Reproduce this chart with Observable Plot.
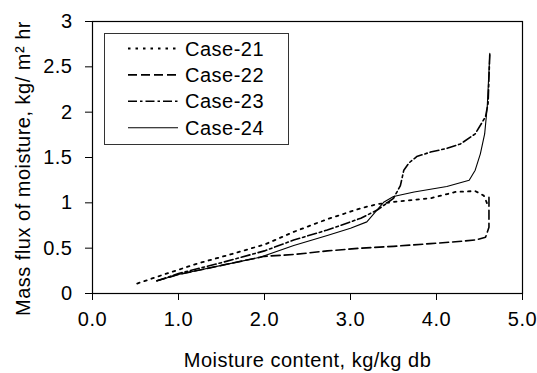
<!DOCTYPE html>
<html>
<head>
<meta charset="utf-8">
<script src="https://cdn.jsdelivr.net/npm/d3@7"></script>
<script src="https://cdn.jsdelivr.net/npm/@observablehq/plot@0.6"></script>
<style>
  html, body { margin: 0; padding: 0; background: #fff; }
  #chart svg { display: block; }
</style>
</head>
<body>
<div id="chart"></div>
<script>
// Series names (legend order)
const seriesNames = ["Case-21", "Case-22", "Case-23", "Case-24"];

// Case-21 (dotted)
const case21X = [0.52, 0.8, 1.22, 1.6, 2.0, 2.34, 2.73, 3.12, 3.31, 3.5, 3.93, 4.22, 4.45, 4.55, 4.59];
const case21Y = [0.11, 0.20, 0.33, 0.43, 0.54, 0.68, 0.82, 0.94, 0.985, 1.01, 1.05, 1.12, 1.13, 1.08, 0.99];

// Case-22 (dashed)
const case22X = [0.75, 1.0, 1.5, 2.0, 2.34, 2.73, 3.12, 3.5, 3.93, 4.22, 4.45, 4.57, 4.61, 4.61];
const case22Y = [0.14, 0.21, 0.31, 0.41, 0.43, 0.47, 0.50, 0.52, 0.55, 0.57, 0.59, 0.62, 0.73, 1.06];

// Case-23 (dash-dot)
const case23X = [0.75, 1.0, 1.5, 2.0, 2.34, 2.73, 3.12, 3.31, 3.5, 3.58, 3.62, 3.68, 3.77, 3.93, 4.12, 4.28, 4.45, 4.57, 4.6, 4.62];
const case23Y = [0.14, 0.22, 0.34, 0.47, 0.59, 0.70, 0.83, 0.92, 1.05, 1.19, 1.36, 1.44, 1.51, 1.56, 1.60, 1.65, 1.76, 1.95, 2.1, 2.65];

// Case-24 (solid)
const case24X = [0.75, 1.0, 1.5, 1.95, 2.34, 2.73, 3.0, 3.19, 3.29, 3.39, 3.5, 3.74, 4.12, 4.38, 4.45, 4.51, 4.56, 4.59, 4.62];
const case24Y = [0.14, 0.21, 0.31, 0.40, 0.53, 0.64, 0.72, 0.79, 0.90, 1.01, 1.07, 1.12, 1.18, 1.25, 1.36, 1.54, 1.76, 2.06, 2.65];

// Axis ticks and titles
const xTicks = [0, 1, 2, 3, 4, 5];
const yTicks = [0, 0.5, 1, 1.5, 2, 2.5, 3];
const xTitle = "Moisture content, kg/kg db";
const yTitle = "Mass flux of moisture, kg/ m² hr";

const seriesX = [case21X, case22X, case23X, case24X];
const seriesY = [case21Y, case22Y, case23Y, case24Y];
const dashes = ["2.5,5", "9,4", "9,3,2.5,3", null];
const widths = [1.8, 1.6, 1.6, 1.1];

const lineMarks = seriesNames.map((name, i) => {
  const rows = seriesX[i].map((x, j) => ({x, y: seriesY[i][j], name}));
  return Plot.line(rows, {
    x: "x", y: "y", stroke: "#000",
    strokeWidth: widths[i],
    strokeDasharray: dashes[i] || undefined,
    curve: "linear"
  });
});

const fontFamily = "'Liberation Sans', Arial, sans-serif";

const chart = Plot.plot({
  width: 537,
  height: 373,
  marginLeft: 92,
  marginRight: 15,
  marginTop: 21,
  marginBottom: 80,
  style: { fontFamily, fontSize: "20px", letterSpacing: "0.5px", color: "#000", background: "#fff", overflow: "visible" },
  x: { domain: [0, 5] },
  y: { domain: [0, 3] },
  marks: [
    Plot.axisX({
      ticks: xTicks, tickFormat: d3.format(".1f"), tickSize: 7, tickPadding: 11,
      label: null, fontSize: 20
    }),
    Plot.axisY({
      ticks: yTicks, tickFormat: d => String(d), tickSize: 7, tickPadding: 13,
      label: null, fontSize: 20
    }),
    Plot.text([xTitle], { text: d => d, frameAnchor: "bottom", textAnchor: "middle", dy: 67, lineAnchor: "middle", fontSize: 20 }),
    Plot.text([yTitle], { text: d => d, frameAnchor: "left", textAnchor: "middle", rotate: -90, dx: -69, dy: 11, lineAnchor: "middle", fontSize: 20 }),
    Plot.frame({ stroke: "#000", strokeWidth: 1.2 }),
    ...lineMarks
  ]
});

document.getElementById("chart").appendChild(chart);

// Legend (inside the plot area, top-left)
const svg = d3.select(chart);
const lg = svg.append("g").attr("font-family", fontFamily).attr("font-size", 20)
  .attr("text-anchor", "start").style("letter-spacing", "0.5px");
lg.append("rect").attr("x", 104.5).attr("y", 33.5).attr("width", 184).attr("height", 111)
  .attr("fill", "#fff").attr("stroke", "#333").attr("stroke-width", 1);
seriesNames.forEach((name, i) => {
  const cy = 48.5 + i * 26.4;
  lg.append("line").attr("x1", 128).attr("x2", 178).attr("y1", cy).attr("y2", cy)
    .attr("stroke", "#000").attr("stroke-width", widths[i])
    .attr("stroke-dasharray", dashes[i]);
  lg.append("text").attr("x", 185).attr("y", cy).attr("dy", "0.35em").text(name);
});
</script>
</body>
</html>
